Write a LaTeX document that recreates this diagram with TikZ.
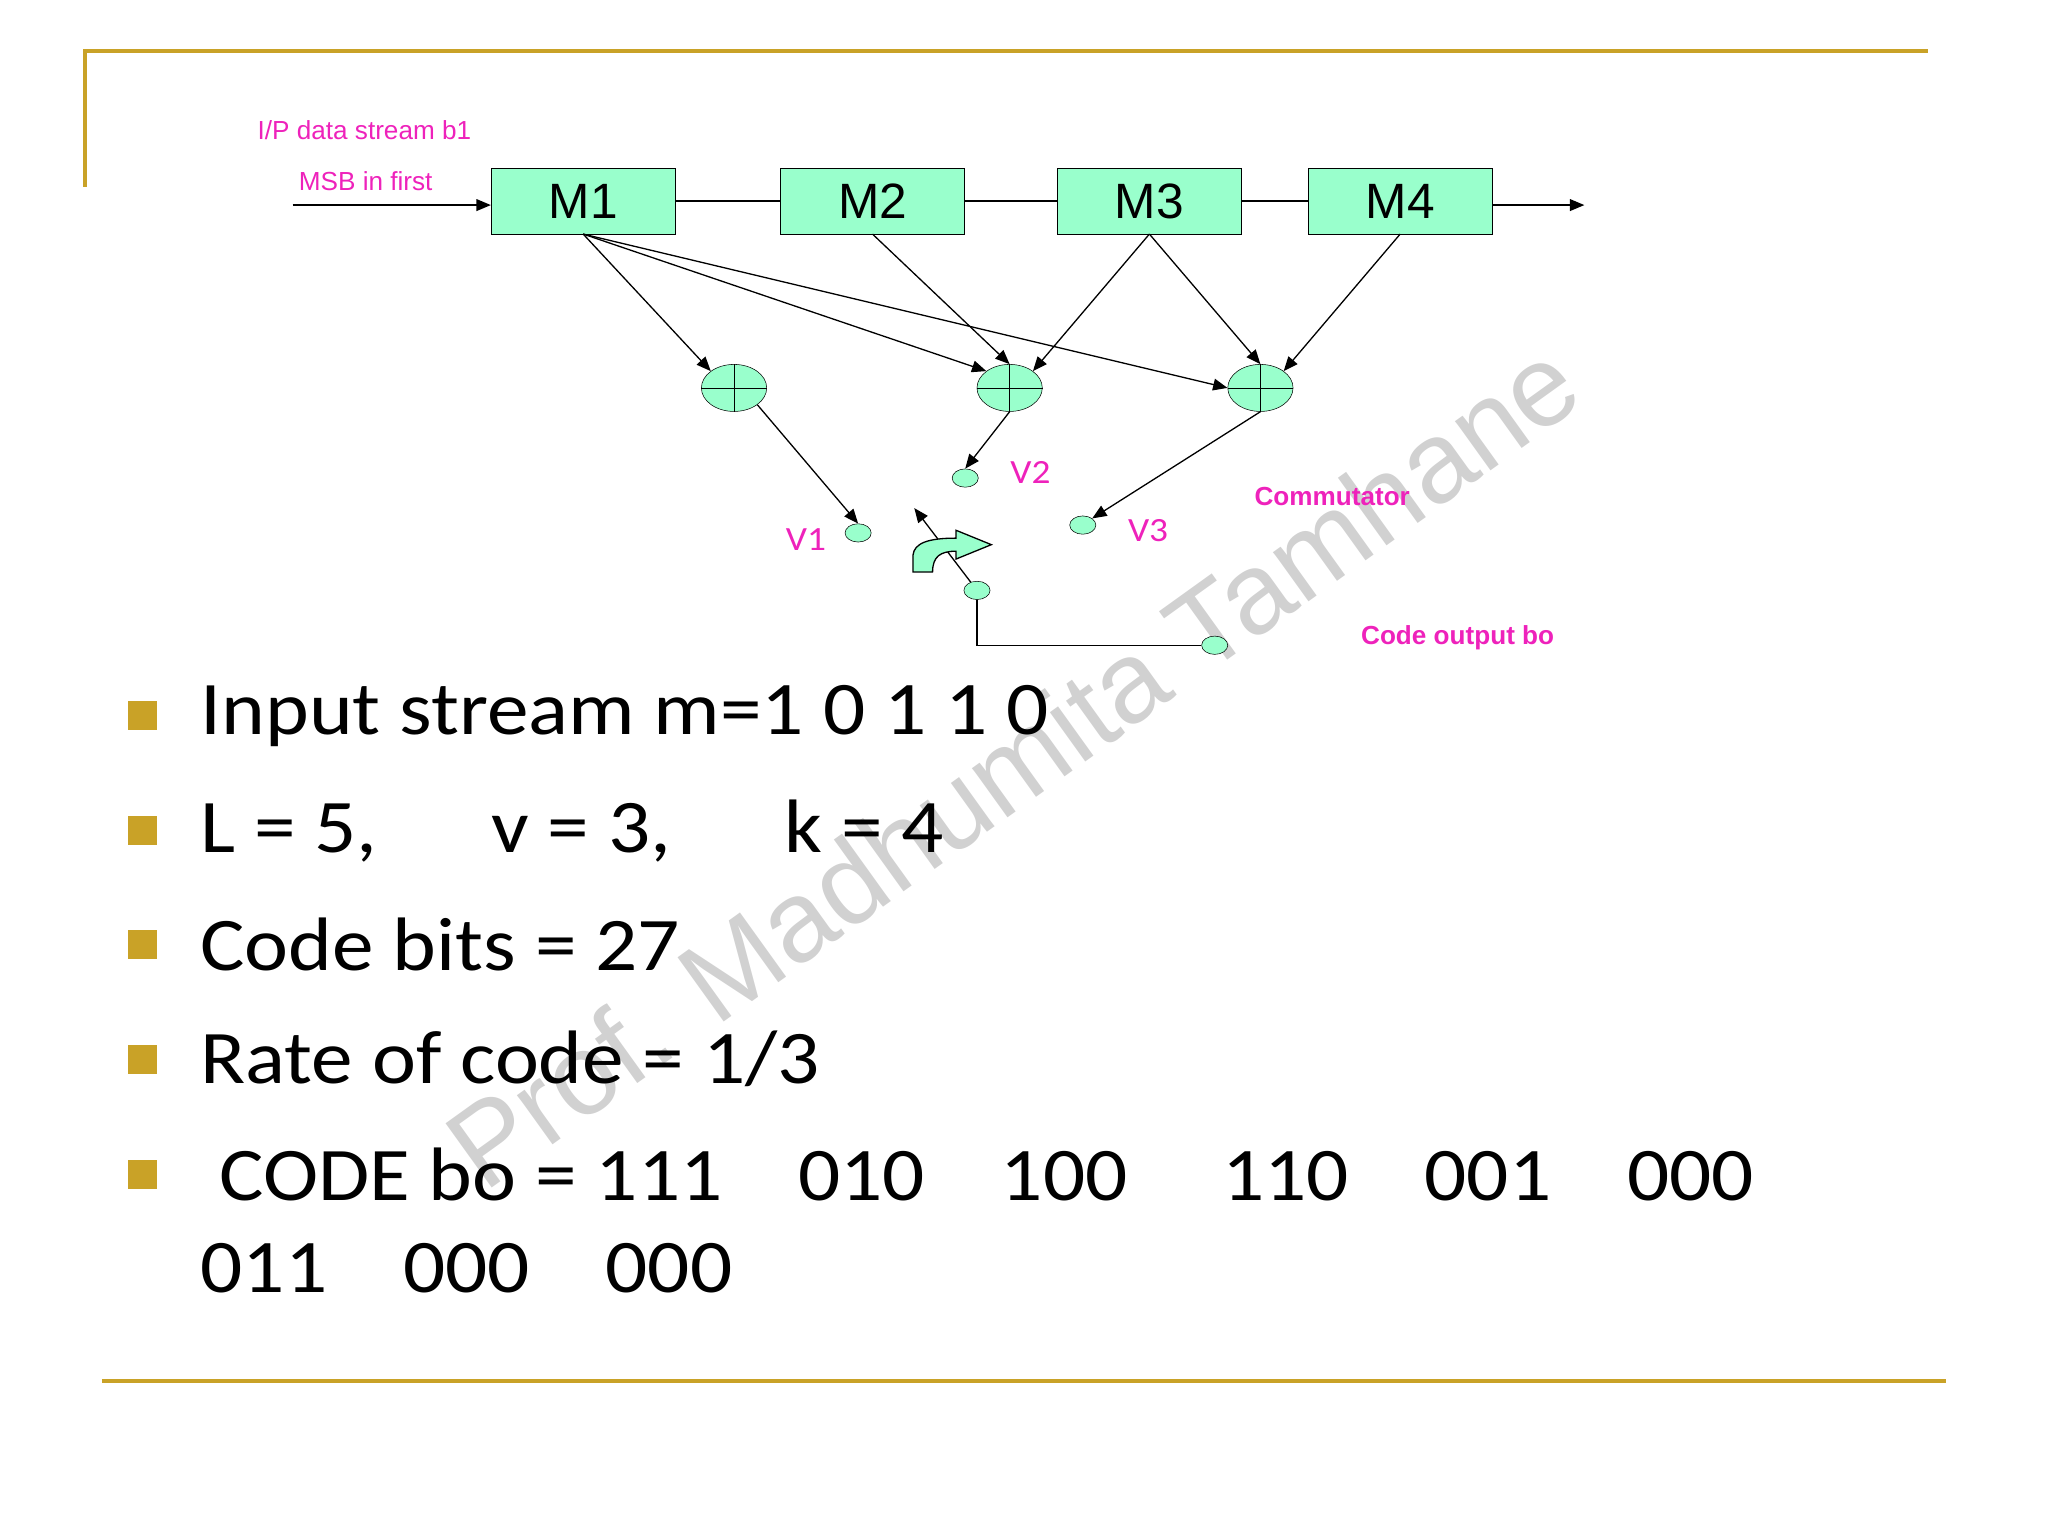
\documentclass[tikz,border=0pt]{standalone}
\usepackage{fontspec}
\setmainfont{Liberation Sans}
\newfontfamily\hand[FakeStretch=1.1]{Carlito}
\usetikzlibrary{arrows.meta,shapes.geometric}
\definecolor{gold}{HTML}{C9A227}
\definecolor{mint}{HTML}{99FFCC}
\definecolor{pinkc}{HTML}{EE22BB}
\begin{document}
\begin{tikzpicture}[x=1pt,y=-1pt,
  box/.style={draw,fill=mint,minimum width=141pt,minimum height=50pt,inner sep=0,font=\fontsize{38}{40}\selectfont},
  add/.style={draw,fill=mint,ellipse,minimum width=50pt,minimum height=36pt,inner sep=0},
  term/.style={draw,fill=mint,ellipse,minimum width=20pt,minimum height=14pt,inner sep=0},
  arr/.style={-{Triangle[length=11pt,width=9pt]},line width=1pt},
  lbl/.style={text=pinkc,font=\fontsize{20}{22}\selectfont},
  vlbl/.style={text=pinkc,font=\hand\fontsize{26}{28}\selectfont},
  bul/.style={fill=gold,minimum size=22pt,inner sep=0},
  btxt/.style={anchor=west,font=\hand\fontsize{58}{62}\selectfont}]
\useasboundingbox (0,0) rectangle (1568,1176);
\draw[gold,line width=3pt] (65,143) -- (65,39) -- (1476,39);
\draw[gold,line width=3pt] (78,1057) -- (1490,1057);
\node[rotate=35.7,text=black!18,font=\fontsize{88}{90}\selectfont] (wm) at (775,585) {Prof. Madhumita Tamhane};
\node[box] (m1) at (446.5,154) {M1};
\node[box] (m2) at (668,154) {M2};
\node[box] (m3) at (880,154) {M3};
\node[box] (m4) at (1072,154) {M4};
\coordinate (in) at (224,157);
\coordinate (out) at (1213,157);
\draw[arr] (in) -- (in -| m1.west);
\draw[line width=1pt] (m1) -- (m2) (m2) -- (m3) (m3) -- (m4);
\draw[arr] (out -| m4.east) -- (out);
\node[lbl] (ip) at (279,100) {I/P data stream b1};
\node[lbl] (msb) at (280,139) {MSB in first};
\foreach \n/\x in {a1/562,a2/773,a3/965}{
  \node[add] (\n) at (\x,297) {};
  \draw (\n.north) -- (\n.south) (\n.west) -- (\n.east);
}
\draw[arr] (m1.south) -- (a1.north west);
\draw[arr] (m1.south) -- (a2.north west);
\draw[arr] (m1.south) -- (a3.west);
\draw[arr] (m2.south) -- (a2.north);
\draw[arr] (m3.south) -- (a2.north east);
\draw[arr] (m3.south) -- (a3.north);
\draw[arr] (m4.south) -- (a3.north east);
\node[term] (v1) at (657,408) {};
\node[term] (v2) at (739,366) {};
\node[term] (v3) at (829,402) {};
\draw[arr] (a1.south east) -- (v1.north);
\draw[arr] (a2.south) -- (v2.north);
\draw[arr] (a3.south) -- (v3.north east);
\node[vlbl] (l1) at (617,413) {V1};
\node[vlbl] (l2) at (789,362) {V2};
\node[vlbl] (l3) at (879,406) {V3};
\node[term] (c) at (748,452) {};
\node[term] (o) at (930,494) {};
\coordinate (ct) at (700,389);
\draw[arr] (c) -- (ct);
\draw[line width=1pt] (c.south) |- (o.west);
% commutator curved arrow
\draw[fill=mint,line width=1pt] (699,438) -- (699,425) .. controls (700,416) and (710,412) .. (732,412)
  -- (732,406) -- (759,417) -- (732,428) -- (732,422) .. controls (720,422) and (714,426) .. (714,438) -- cycle;
\node[lbl,font=\bfseries\fontsize{20}{22}\selectfont] (cm) at (1020,380) {Commutator};
\node[lbl,font=\bfseries\fontsize{20}{22}\selectfont] (co) at (1116,488) {Code output bo};
\foreach \y/\t in {548/{Input stream m=1 0 1 1 0},636/{L = 5,\quad\ \ v = 3,\quad\ \ k = 4},723/{Code bits = 27},811/{Rate of code = 1/3},899/{\ CODE bo = 111\quad 010\quad 100\quad\ 110\quad 001\quad 000}}{
  \node[bul] at (109,\y) {};
  \node[btxt] at (150,\y) {\t};
}
\node[btxt] (last) at (150,971) {011\quad 000\quad 000};
\end{tikzpicture}
\end{document}
